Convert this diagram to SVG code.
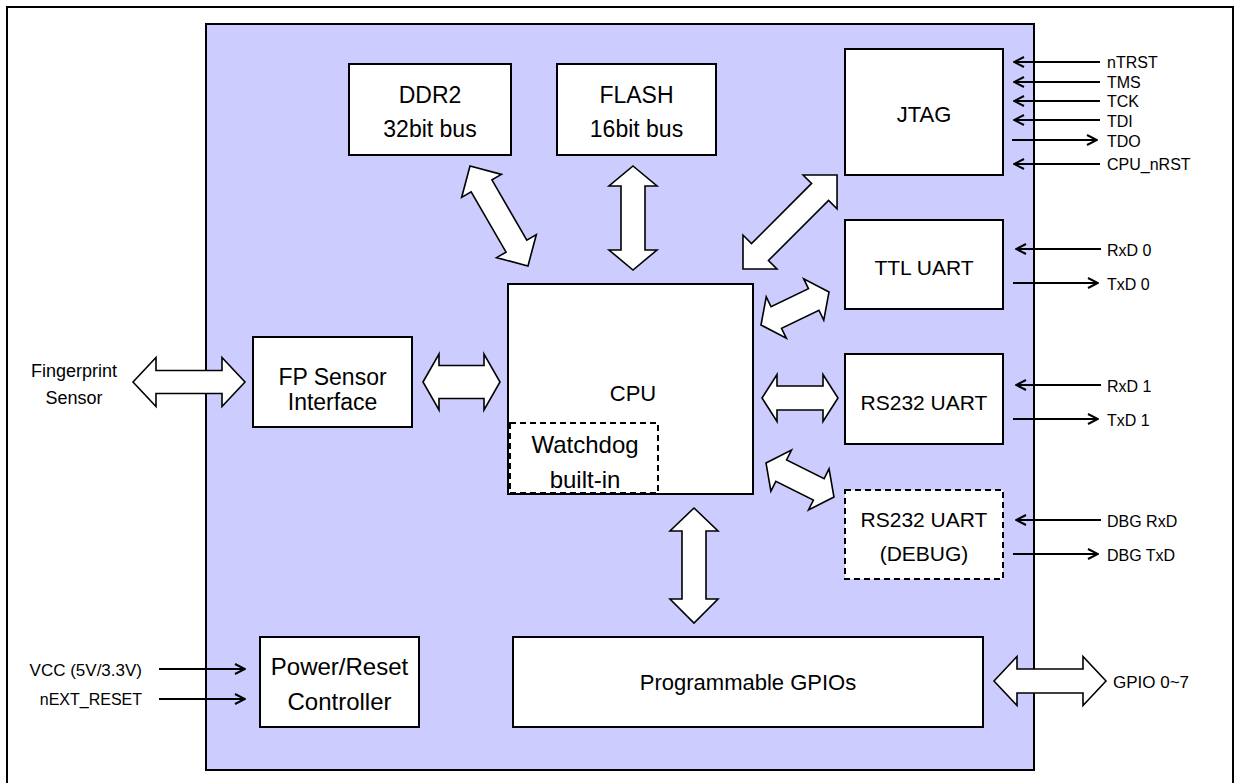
<svg xmlns="http://www.w3.org/2000/svg" width="1236" height="783" viewBox="0 0 1236 783">
<defs>
<style>
.frame{fill:#fff;stroke:#000;stroke-width:2}
.chip{fill:#ccccff;stroke:#000;stroke-width:2}
.box{fill:#fff;stroke:#000;stroke-width:2}
.dash{fill:#fff;stroke:#000;stroke-width:2;stroke-dasharray:6 4}
.dashin{fill:none;stroke:#000;stroke-width:2;stroke-dasharray:6 4}
.t{font-family:"Liberation Sans",Arial,sans-serif;font-size:22px;text-anchor:middle;fill:#000}
.s{font-family:"Liberation Sans",Arial,sans-serif;font-size:16px;fill:#000}
.sig{stroke:#000;stroke-width:2;fill:none;marker-end:url(#ah)}
.bus{fill:#fff;stroke:#000;stroke-width:1.6;stroke-linejoin:miter}
</style>
<marker id="ah" viewBox="0 0 12 12" refX="11" refY="6" markerWidth="12" markerHeight="12" markerUnits="userSpaceOnUse" orient="auto">
<path d="M1,1 L11,6 L1,11" fill="none" stroke="#000" stroke-width="2"/>
</marker>
</defs>

<rect class="frame" x="7" y="7" width="1226" height="790"/>
<rect class="chip" x="206" y="24" width="828" height="746"/>

<g id="ddr2">
<rect class="box" x="349" y="64" width="162" height="91"/>
<text class="t" x="430" y="103" style="font-size:23px">DDR2</text>
<text class="t" x="430" y="137" style="font-size:23px">32bit bus</text>
</g>
<g id="flash">
<rect class="box" x="557" y="64" width="159" height="91"/>
<text class="t" x="636.5" y="103" style="font-size:23px">FLASH</text>
<text class="t" x="636.5" y="137" style="font-size:23px">16bit bus</text>
</g>
<g id="jtag">
<rect class="box" x="845" y="49" width="158" height="126"/>
<text class="t" x="924" y="122">JTAG</text>
</g>
<g id="ttl-uart">
<rect class="box" x="845" y="220" width="158" height="89"/>
<text class="t" x="924" y="275" style="font-size:21px">TTL UART</text>
</g>
<g id="rs232-uart">
<rect class="box" x="845" y="354" width="158" height="90"/>
<text class="t" x="924" y="410" style="font-size:21px">RS232 UART</text>
</g>
<g id="rs232-debug">
<rect class="dash" x="845" y="490" width="158" height="89"/>
<text class="t" x="924" y="527" style="font-size:21px">RS232 UART</text>
<text class="t" x="924" y="561" style="font-size:21px">(DEBUG)</text>
</g>
<g id="cpu">
<rect class="box" x="508" y="284" width="245" height="210"/>
<text class="t" x="633" y="401">CPU</text>
</g>
<g id="watchdog">
<rect class="dashin" x="510" y="423" width="148" height="70"/>
<text class="t" x="585" y="453" style="font-size:24px">Watchdog</text>
<text class="t" x="585" y="488" style="font-size:24px">built-in</text>
</g>
<g id="fp-interface">
<rect class="box" x="253" y="337" width="159" height="90"/>
<text class="t" x="332.5" y="385" style="font-size:23px">FP Sensor</text>
<text class="t" x="332.5" y="410" style="font-size:23px">Interface</text>
</g>
<g id="power-reset">
<rect class="box" x="260" y="637" width="159" height="90"/>
<text class="t" x="339.5" y="675" style="font-size:24px">Power/Reset</text>
<text class="t" x="339.5" y="710" style="font-size:24px">Controller</text>
</g>
<g id="gpio">
<rect class="box" x="513" y="637" width="470" height="90"/>
<text class="t" x="748" y="690">Programmable GPIOs</text>
</g>

<g id="connectors">
<path class="bus" transform="translate(470,166) rotate(59.9)" d="M0,0 L23,-23 L23,-12 L92.6,-12 L92.6,-23 L115.6,0 L92.6,23 L92.6,12 L23,12 L23,23 Z"/>
<path class="bus" transform="translate(633,166) rotate(90)" d="M0,0 L20,-24 L20,-12 L84,-12 L84,-24 L104,0 L84,24 L84,12 L20,12 L20,24 Z"/>
<path class="bus" transform="translate(743,269) rotate(-45)" d="M0,0 L24,-24 L24,-12 L109,-12 L109,-24 L133,0 L109,24 L109,12 L24,12 L24,24 Z"/>
<path class="bus" transform="translate(761,325) rotate(-25.9)" d="M0,0 L17,-23 L17,-12 L58.6,-12 L58.6,-23 L75.6,0 L58.6,23 L58.6,12 L17,12 L17,23 Z"/>
<path class="bus" d="M762,398 L777,374.5 L777,386 L823,386 L823,374.5 L838,398 L823,421.5 L823,410 L777,410 L777,421.5 Z"/>
<path class="bus" transform="translate(766,463) rotate(26.6)" d="M0,0 L17,-23 L17,-12 L59,-12 L59,-23 L76,0 L59,23 L59,12 L17,12 L17,23 Z"/>
<path class="bus" d="M694,508 L670,531 L682,531 L682,599 L670,599 L694,623 L718,599 L706,599 L706,531 L718,531 Z"/>
<path class="bus" d="M133,382 L156,357.5 L156,370.5 L222,370.5 L222,357.5 L245,382 L222,406.5 L222,393.5 L156,393.5 L156,406.5 Z"/>
<path class="bus" d="M423,382 L439,354 L439,365.5 L484,365.5 L484,354 L500,382 L484,410 L484,398.5 L439,398.5 L439,410 Z"/>
<path class="bus" d="M994,681 L1017,656.5 L1017,669 L1083,669 L1083,656.5 L1106,681 L1083,705.5 L1083,693 L1017,693 L1017,705.5 Z"/>

<line class="sig" x1="1100" y1="62" x2="1014" y2="62"/>
<line class="sig" x1="1100" y1="82" x2="1014" y2="82"/>
<line class="sig" x1="1100" y1="101" x2="1014" y2="101"/>
<line class="sig" x1="1100" y1="120" x2="1014" y2="120"/>
<line class="sig" x1="1012" y1="140" x2="1097" y2="140"/>
<line class="sig" x1="1100" y1="164" x2="1014" y2="164"/>
<line class="sig" x1="1101" y1="249" x2="1016" y2="249"/>
<line class="sig" x1="1013" y1="283" x2="1098" y2="283"/>
<line class="sig" x1="1101" y1="385" x2="1016" y2="385"/>
<line class="sig" x1="1013" y1="419" x2="1098" y2="419"/>
<line class="sig" x1="1101" y1="520" x2="1016" y2="520"/>
<line class="sig" x1="1013" y1="554" x2="1098" y2="554"/>
<line class="sig" x1="159" y1="669" x2="245" y2="669"/>
<line class="sig" x1="159" y1="699" x2="245" y2="699"/>
</g>

<g id="labels">
<text class="s" x="1107" y="68">nTRST</text>
<text class="s" x="1107" y="88">TMS</text>
<text class="s" x="1107" y="107">TCK</text>
<text class="s" x="1107" y="127">TDI</text>
<text class="s" x="1107" y="147">TDO</text>
<text class="s" x="1107" y="170">CPU_nRST</text>
<text class="s" x="1107" y="256">RxD 0</text>
<text class="s" x="1107" y="290">TxD 0</text>
<text class="s" x="1107" y="392">RxD 1</text>
<text class="s" x="1107" y="426">TxD 1</text>
<text class="s" x="1107" y="527">DBG RxD</text>
<text class="s" x="1107" y="561">DBG TxD</text>
<text class="s" x="1113" y="688" style="font-size:17px">GPIO 0~7</text>
<text class="s" x="74" y="377" style="text-anchor:middle;font-size:18px">Fingerprint</text>
<text class="s" x="74" y="404" style="text-anchor:middle;font-size:18px">Sensor</text>
<text class="s" x="142" y="676" style="text-anchor:end;font-size:17px">VCC (5V/3.3V)</text>
<text class="s" x="142" y="705" style="text-anchor:end">nEXT_RESET</text>
</g>
</svg>
